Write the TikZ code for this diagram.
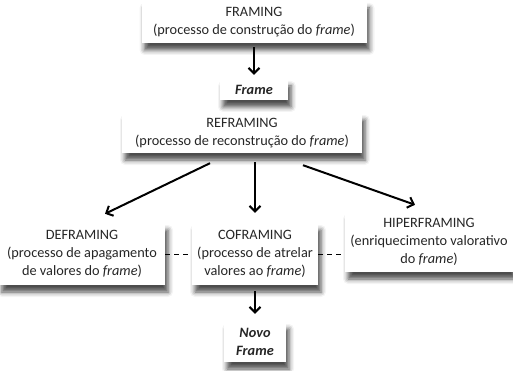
\documentclass[tikz,border=0pt]{standalone}
\usepackage{fontspec}
\setmainfont{Carlito}
\usetikzlibrary{arrows.meta,shadows.blur,calc}
\begin{document}
\begin{tikzpicture}[x=1pt,y=-1pt,
  box/.style={fill=white, align=center, inner sep=0pt, text=black!85,
    font=\fontsize{14.3}{18}\selectfont,
    blur shadow={shadow xshift=3pt, shadow yshift=-7pt, shadow blur radius=5pt, shadow opacity=70}},
  arr/.style={-{Straight Barb[length=5.5pt,width=11pt]}, line width=2pt},
  dashln/.style={line width=1pt, dash pattern=on 5pt off 4pt}
]
\useasboundingbox (0,0) rectangle (513,371);
\node[box, minimum width=225pt, minimum height=42pt] (framing) at (254,22)
  {FRAMING\\(processo de construção do \textit{frame})};
\node[box, minimum width=68pt, minimum height=21pt] (frame) at (254,89.5)
  {\textbf{\textit{Frame}}};
\node[box, minimum width=240pt, minimum height=40pt] (reframing) at (242,133)
  {REFRAMING\\(processo de reconstrução do \textit{frame})};
\node[box, minimum width=166pt, minimum height=62pt] (deframing) at (82,254)
  {DEFRAMING\\(processo de apagamento\\de valores do \textit{frame})};
\node[box, minimum width=126pt, minimum height=62pt] (coframing) at (255,254)
  {COFRAMING\\(processo de atrelar\\valores ao \textit{frame})};
\node[box, minimum width=168pt, minimum height=60pt] (hiper) at (429,242)
  {HIPERFRAMING\\(enriquecimento valorativo\\do \textit{frame})};
\node[box, minimum width=62pt, minimum height=40pt] (novo) at (255,342)
  {\textbf{\textit{Novo}}\\\textbf{\textit{Frame}}};

\draw[arr] ($(frame.north |- framing.south)+(0,4)$) -- ($(frame.north)+(0,-4)$);
\draw[arr] ($(reframing.south)+(-32,10)$) -- ($(deframing.north)+(23,-9)$);
\draw[arr] ($(coframing.north |- reframing.south)+(0,9)$) -- ($(coframing.north)+(0,-10)$);
\draw[arr] ($(reframing.south)+(61,12)$) -- ($(hiper.north)+(-14,-7)$);
\draw[arr] ($(coframing.south)+(0,6)$) -- ($(novo.north)+(0,-8)$);
\draw[dashln] (deframing.east) -- (coframing.west);
\draw[dashln] (coframing.east) -- (coframing.east -| hiper.west);
\end{tikzpicture}
\end{document}
